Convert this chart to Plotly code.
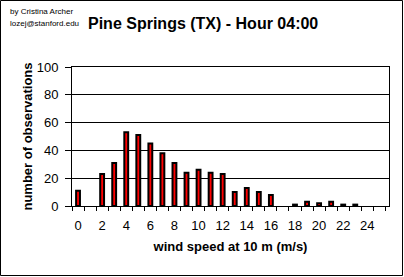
import plotly.graph_objects as go

speeds = list(range(0, 26))
counts = [11, 0, 23, 31, 53, 51, 45, 38, 31, 24, 26, 24, 23, 10, 13, 10, 8, 0, 1, 3, 2, 3, 1, 1, 0, 0]
xtick_vals = list(range(0, 25, 2))
ytick_vals = [0, 20, 40, 60, 80, 100]

W, H = 404, 277
L, R, T, B = 72, 15, 67, 71
pw, ph = W - L - R, H - T - B

fig = go.Figure()
fig.add_trace(go.Bar(
    x=speeds, y=counts, width=0.32,
    marker=dict(color="#ff0000",
                line=dict(color="black", width=[2 if c > 0 else 0 for c in counts])),
))

font = "Liberation Sans, Arial, sans-serif"
fig.update_layout(
    width=W, height=H,
    margin=dict(l=L, r=R, t=T, b=B, pad=0),
    paper_bgcolor="white", plot_bgcolor="white",
    showlegend=False,
    font=dict(family=font, color="black", size=12),
    xaxis=dict(
        range=[-0.5, 25.8], tickvals=xtick_vals, ticktext=[str(v) for v in xtick_vals],
        ticks="", showgrid=False, zeroline=False, ticklabelstandoff=7,
        showline=True, linecolor="black", linewidth=1, mirror=True,
        minor=dict(tick0=-0.5, dtick=1, ticks="outside", ticklen=4, tickcolor="black", showgrid=False),
        tickfont=dict(size=13), title=dict(text="<b>wind speed at 10 m (m/s)</b>", font=dict(size=13), standoff=10),
        fixedrange=True,
    ),
    yaxis=dict(
        range=[0, 100], tickvals=ytick_vals, ticks="outside", ticklen=6, tickcolor="black",
        showgrid=True, gridcolor="black", gridwidth=1, zeroline=False, ticklabelstandoff=4,
        showline=True, linecolor="black", linewidth=1, mirror=True,
        tickfont=dict(size=13), title=dict(text="<b>number of observations</b>", font=dict(size=13), standoff=1),
        fixedrange=True,
    ),
    annotations=[
        dict(text="<b>Pine Springs (TX) - Hour 04:00</b>", xref="paper", yref="paper",
             x=(86 - L) / pw, y=1 + (T - 24) / ph, xanchor="left", yanchor="middle",
             showarrow=False, font=dict(size=16, family=font)),
        dict(text="by Cristina Archer", xref="paper", yref="paper",
             x=(8 - L) / pw, y=1 + (T - 11.5) / ph, xanchor="left", yanchor="middle",
             showarrow=False, font=dict(size=8, family=font)),
        dict(text="lozej@stanford.edu", xref="paper", yref="paper",
             x=(8 - L) / pw, y=1 + (T - 23.5) / ph, xanchor="left", yanchor="middle",
             showarrow=False, font=dict(size=8, family=font)),
    ],
    shapes=[
        dict(type="rect", xref="paper", yref="paper",
             x0=(0.5 - L) / pw, x1=(W - 1.5 - L) / pw,
             y0=-(B - 1.5) / ph, y1=1 + (T - 0.5) / ph,
             line=dict(color="black", width=1), layer="above"),
    ],
)

fig.write_html("out.html")
